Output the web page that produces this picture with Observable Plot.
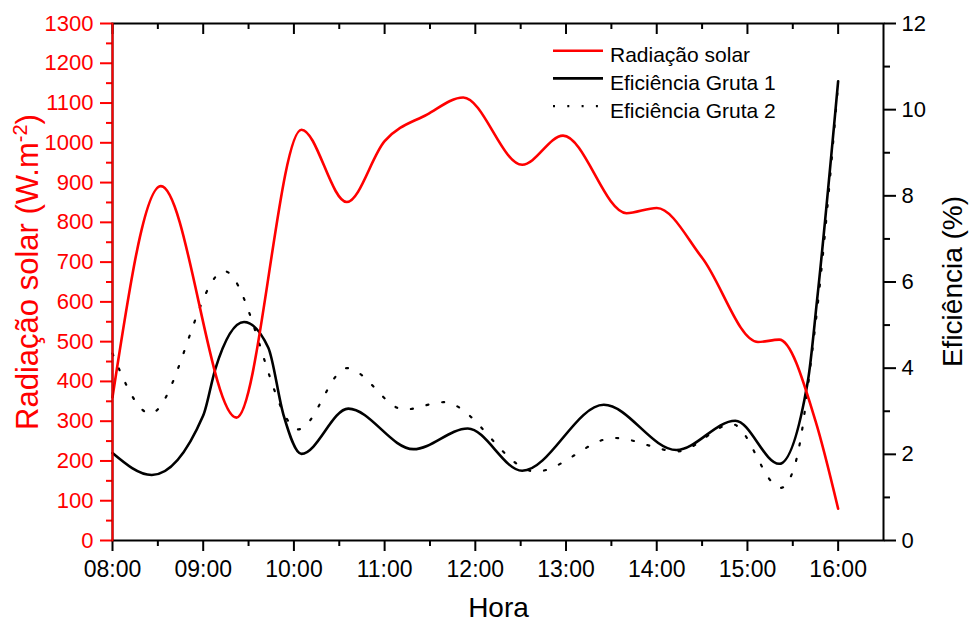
<!DOCTYPE html>
<html><head><meta charset="utf-8">
<script src="https://cdn.jsdelivr.net/npm/d3@7"></script>
<script src="https://cdn.jsdelivr.net/npm/@observablehq/plot@0.6"></script>
<style>
html,body{margin:0;padding:0;background:#fff;}
#chart{width:971px;height:624px;}
</style></head><body>
<div id="chart"></div>
<script>
// ---- data (turning points of each curve) ----
const radTimes  = ["08:00","08:32","09:22","10:05","10:35","11:00","11:28","11:52","12:31","12:58","13:40","14:00","14:30","15:07","15:21","15:45","16:00"];
const radValues = [360,891,309,1033,851,1004,1071,1114,945,1018,823,836,711,499,505,301,80];

const g1Times  = ["08:00","08:26","09:00","09:08","09:27","09:43","09:53","10:05","10:36","11:19","11:55","12:31","13:25","14:13","14:52","15:21","15:40","15:46","16:00"];
const g1Values = [2.03,1.52,2.90,3.98,5.07,4.48,2.93,2.01,3.06,2.12,2.60,1.62,3.15,2.10,2.78,1.78,3.71,5.56,10.66];

const g2Times  = ["08:00","08:25","09:14","10:03","10:35","11:13","11:39","12:40","13:32","14:14","14:50","15:22","15:30","15:35","15:42","15:47","16:00"];
const g2Values = [4.34,2.95,6.25,2.58,4.00,3.04,3.21,1.60,2.38,2.07,2.70,1.22,1.60,2.32,4.15,5.64,10.6];

const hourTicks  = ["08:00","09:00","10:00","11:00","12:00","13:00","14:00","15:00","16:00"];
const leftTicks  = [0,100,200,300,400,500,600,700,800,900,1000,1100,1200,1300];
const rightTicks = [0,2,4,6,8,10,12];
const seriesNames = ["Radiação solar","Eficiência Gruta 1","Eficiência Gruta 2"];

// ---- helpers ----
const toH = s => { const [h,m] = s.split(":").map(Number); return h + m/60; };
const LEFT_MAX = 1300, RIGHT_MAX = 12, k = LEFT_MAX / RIGHT_MAX;
const X_MIN = toH(hourTicks[0]), X_MAX = toH(hourTicks[hourTicks.length - 1]) + 0.5;
const rad = radTimes.map((t,i) => ({h: toH(t), v: radValues[i]}));
const g1  = g1Times.map((t,i) => ({h: toH(t), v: g1Values[i] * k}));
const g2  = g2Times.map((t,i) => ({h: toH(t), v: g2Values[i] * k}));
const hourVals = hourTicks.map(toH);
const halfVals = hourVals.slice(0,-1).map(h => h + 0.5);
const leftEdge = [{h: X_MIN, v: 0}, {h: X_MIN, v: LEFT_MAX}];
const leftMinor = leftTicks.slice(0,-1).map(v => v + 50);
const rightMinor = rightTicks.slice(0,-1).map(v => (v + 1) * k);
const FONT = "'Liberation Sans', Arial, Helvetica, sans-serif";
const CURVE = "monotone-x";

const chart = Plot.plot({
  width: 971, height: 624,
  marginLeft: 112, marginRight: 88, marginTop: 23, marginBottom: 84,
  style: {fontFamily: FONT, background: "white", color: "black"},
  x: {domain: [X_MIN, X_MAX]},
  y: {domain: [0, LEFT_MAX]},
  marks: [
    // bottom axis
    Plot.axisX({anchor: "bottom", ticks: hourVals, tickFormat: d => hourTicks[hourVals.indexOf(d)],
      tickSize: 11, tickPadding: 9, fontSize: 23, strokeWidth: 2, color: "black", label: null}),
    Plot.axisX({anchor: "bottom", ticks: halfVals, tickSize: 6, fill: "none", stroke: "black", strokeWidth: 2, label: null}),
    // top axis, ticks pointing inward (inset by their own length)
    Plot.axisX({anchor: "top", ticks: hourVals, tickSize: 10, insetTop: 10, fill: "none", stroke: "black", strokeWidth: 2, label: null}),
    Plot.axisX({anchor: "top", ticks: halfVals, tickSize: 5, insetTop: 5, fill: "none", stroke: "black", strokeWidth: 2, label: null}),
    // left axis (red)
    Plot.axisY({anchor: "left", ticks: leftTicks, tickFormat: d => String(d), tickSize: 12, tickPadding: 7,
      fontSize: 22, strokeWidth: 2, color: "#ff0000", label: null}),
    Plot.axisY({anchor: "left", ticks: leftMinor, tickSize: 6, fill: "none", stroke: "#ff0000", strokeWidth: 2, label: null}),
    // right axis (efficiency)
    Plot.axisY({anchor: "right", ticks: rightTicks.map(v => v * k), tickFormat: d => String(Math.round(d / k)),
      tickSize: 12, tickPadding: 6, fontSize: 22, strokeWidth: 2, color: "black", label: null}),
    Plot.axisY({anchor: "right", ticks: rightMinor, tickSize: 6, fill: "none", stroke: "black", strokeWidth: 2, label: null}),
    // series
    Plot.line(g2, {x: "h", y: "v", curve: CURVE, stroke: "black", strokeWidth: 2.2, strokeDasharray: "2,14"}),
    Plot.line(g1, {x: "h", y: "v", curve: CURVE, stroke: "black", strokeWidth: 2.6}),
    Plot.line(rad, {x: "h", y: "v", curve: CURVE, stroke: "#ff0000", strokeWidth: 2.6}),
    // frame, with the red left edge of the radiation axis
    Plot.frame({stroke: "black", strokeWidth: 2}),
    Plot.line(leftEdge, {x: "h", y: "v", stroke: "#ff0000", strokeWidth: 2})
  ]
});
document.getElementById("chart").appendChild(chart);

// ---- titles & legend ----
const svg = d3.select(chart);
svg.append("text").attr("x", 498.5).attr("y", 617).attr("text-anchor", "middle")
  .attr("font-size", 28).attr("font-family", FONT).attr("fill", "black").text("Hora");
const lt = svg.append("text").attr("transform", "translate(38,272) rotate(-90)").attr("text-anchor", "middle")
  .attr("font-size", 31).attr("font-family", FONT).attr("fill", "#ff0000");
lt.append("tspan").text("Radiação solar (W.m");
lt.append("tspan").attr("baseline-shift", "super").attr("font-size", 20).text("-2");
lt.append("tspan").text(")");
svg.append("text").attr("transform", "translate(962,281.5) rotate(-90)").attr("text-anchor", "middle")
  .attr("font-size", 28).attr("font-family", FONT).attr("fill", "black").text("Eficiência (%)");

const leg = svg.append("g").attr("font-family", FONT).attr("font-size", 21).attr("text-anchor", "start");
const legStyles = [
  {stroke: "#ff0000", dash: null, w: 2.6},
  {stroke: "black", dash: null, w: 2.6},
  {stroke: "black", dash: "2,12.3", w: 2.2}
];
seriesNames.forEach((name, i) => {
  const y = 50.7 + i * 27.7;
  const s = legStyles[i];
  leg.append("line").attr("x1", 553).attr("x2", 603).attr("y1", y).attr("y2", y)
    .attr("stroke", s.stroke).attr("stroke-width", s.w).attr("stroke-dasharray", s.dash);
  leg.append("text").attr("x", 610).attr("y", y + 11.6).attr("text-anchor", "start").attr("fill", "black").text(name);
});
</script>
</body></html>
